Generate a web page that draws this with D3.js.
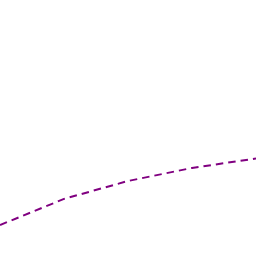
<!DOCTYPE html>
<html>
<head>
<meta charset="utf-8">
<script src="https://cdn.jsdelivr.net/npm/d3@7"></script>
<style>
  html, body { margin: 0; padding: 0; background: #fff; }
</style>
</head>
<body>
<div id="chart"></div>
<script>
  // data
  var xValues = [0, 1, 2, 3, 4]
  var yValues = [0.121, 0.223, 0.293, 0.344, 0.381]

  var width = 256, height = 256

  var svg = d3.select("#chart").append("svg")
    .attr("width", width)
    .attr("height", height)

  var xScale = d3.scaleLinear()
    .domain([0, 4])
    .range([0, width])

  var yScale = d3.scaleLinear()
    .domain([0, 1])
    .range([height, 0])

  var line = d3.line()
    .x((d, i) => xScale(xValues[i]))
    .y(d => yScale(d))

  svg.append("path")
    .datum(yValues)
    .attr("d", line)
    .attr("fill", "none")
    .attr("stroke", "#800080")
    .attr("stroke-width", 2)
    .attr("stroke-dasharray", "7.5,5")
</script>
</body>
</html>
